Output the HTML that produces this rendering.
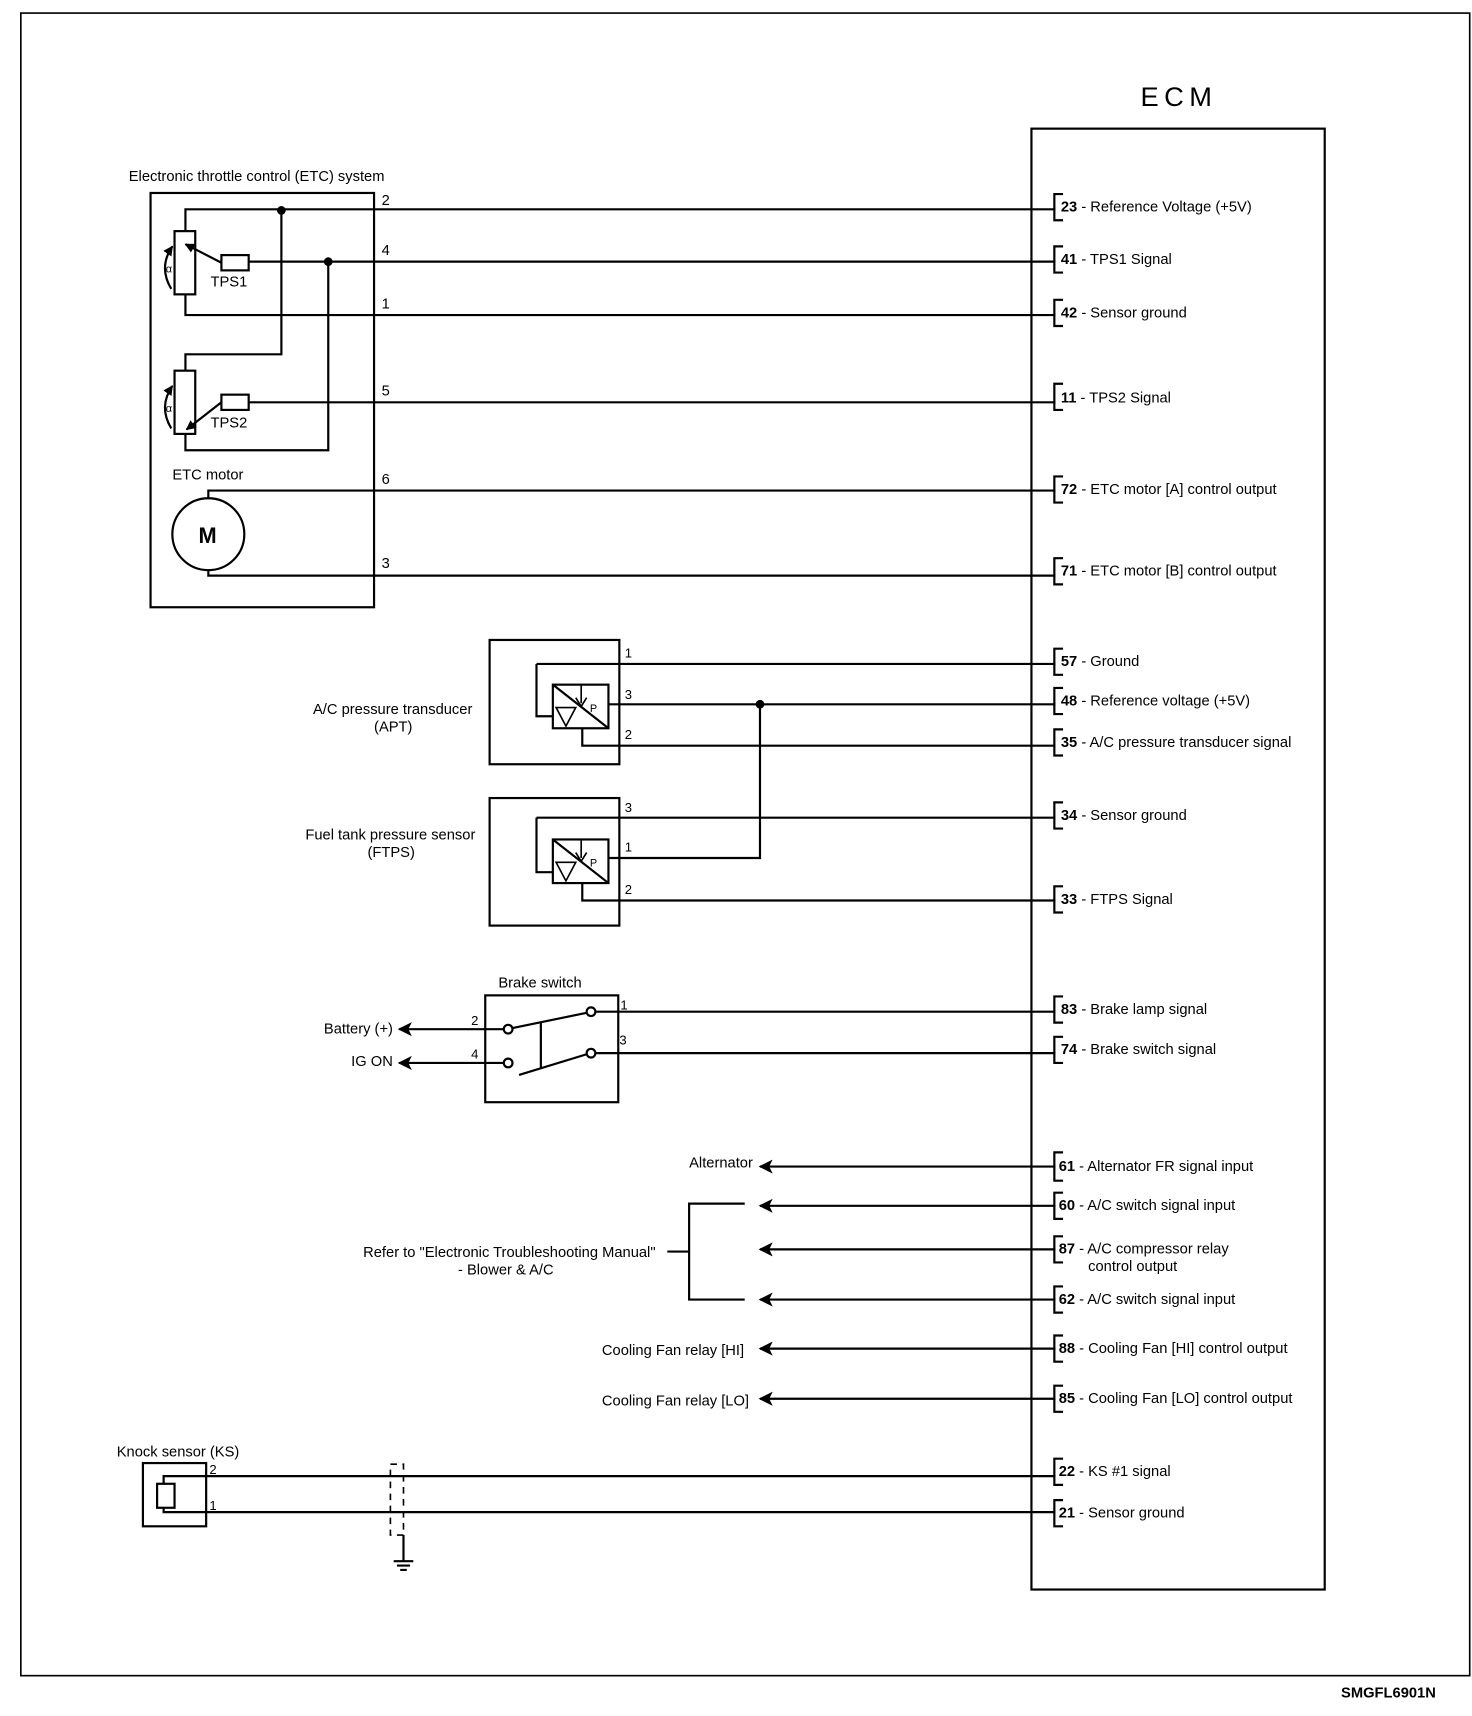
<!DOCTYPE html>
<html><head><meta charset="utf-8"><style>
html,body{margin:0;padding:0;background:#fff;}
svg{display:block;}
text{font-family:"Liberation Sans",sans-serif;font-size:13.5px;fill:#000;}
.b{font-weight:bold;}
</style></head><body>
<svg width="1472" height="1716" viewBox="0 0 1350 1574" xmlns="http://www.w3.org/2000/svg">
<defs>
<marker id="ah" viewBox="0 0 10 10" refX="9" refY="5" markerWidth="6.5" markerHeight="6.5" orient="auto">
<path d="M0,0 L10,5 L0,10 L2.5,5 z" fill="#000"/></marker>
<marker id="as" viewBox="0 0 10 10" refX="9" refY="5" markerWidth="4.5" markerHeight="4.5" orient="auto">
<path d="M0,0 L10,5 L0,10 z" fill="#000"/></marker>
</defs>
<g fill="none" stroke="#000" stroke-width="2">
<rect x="19" y="12" width="1329" height="1525" stroke-width="1.5"/>
<rect x="946" y="118" width="269" height="1340"/>
<rect x="138" y="177" width="205" height="380"/>
<path d="M170,212 V192 H968"/>
<path d="M228,240 H968"/>
<path d="M170,270 V289 H968"/>
<path d="M258,193 V325 H170 V340"/>
<path d="M301,240 V413 H170 V398"/>
<path d="M228,369 H968"/>
<rect x="160" y="212" width="19" height="58"/>
<rect x="160" y="340" width="19" height="58"/>
<rect x="203" y="234" width="25" height="14"/>
<rect x="203" y="362" width="25" height="14"/>
<path d="M203,241 L170,224" marker-end="url(#as)"/>
<path d="M203,369 L171,394" marker-end="url(#as)"/>
<path d="M157,265 Q145,245 158,226" marker-end="url(#as)"/>
<path d="M157,393 Q145,373 158,354" marker-end="url(#as)"/>
<circle cx="191" cy="490" r="33"/>
<path d="M191,457 V450 H968"/>
<path d="M191,523 V528 H968"/>
<rect x="449" y="587" width="119" height="114"/>
<rect x="507" y="628" width="51" height="40"/>
<path d="M492,609 H968 M492,609 V657 H507"/>
<path d="M558,646 H968"/>
<path d="M534,668 V684 H968"/>
<path d="M507,628 L558,668"/>
<path d="M533,628 V645" stroke-width="1.5"/><path d="M528,640 L533,648 L538,640" stroke-width="1.5"/>
<path d="M510,649 L528,649 L519,666 z" stroke-width="1.5"/>
<rect x="449" y="732" width="119" height="117"/>
<rect x="507" y="770" width="51" height="40"/>
<path d="M492,750 H968 M492,750 V800 H507"/>
<path d="M558,787 H697 V646"/>
<path d="M534,810 V826 H968"/>
<path d="M507,770 L558,810"/>
<path d="M533,770 V787" stroke-width="1.5"/><path d="M528,782 L533,790 L538,782" stroke-width="1.5"/>
<path d="M510,791 L528,791 L519,808 z" stroke-width="1.5"/>
<rect x="445" y="913" width="122" height="98"/>
<path d="M546,928 H968"/>
<path d="M546,966 H968"/>
<path d="M462,944 H366" marker-end="url(#ah)"/>
<path d="M462,975 H366" marker-end="url(#ah)"/>
<path d="M470,943 L538,929 M476,986 L538,967 M496,938 V980"/>
<circle cx="466" cy="944" r="4" fill="#fff"/>
<circle cx="466" cy="975" r="4" fill="#fff"/>
<circle cx="542" cy="928" r="4" fill="#fff"/>
<circle cx="542" cy="966" r="4" fill="#fff"/>
<path d="M968,1070 H697" marker-end="url(#ah)"/>
<path d="M968,1106 H697" marker-end="url(#ah)"/>
<path d="M968,1146 H697" marker-end="url(#ah)"/>
<path d="M968,1192 H697" marker-end="url(#ah)"/>
<path d="M968,1237 H697" marker-end="url(#ah)"/>
<path d="M968,1283 H697" marker-end="url(#ah)"/>
<path d="M683,1104 H632 V1192 H683 M612,1148 H632"/>
<rect x="131" y="1342" width="58" height="58"/>
<rect x="144" y="1361" width="16" height="22"/>
<path d="M150,1361 V1354 H968 M150,1383 V1387 H968"/>
<rect x="358" y="1343" width="12" height="65" stroke-width="1.5" stroke-dasharray="6,5"/>
<path d="M370,1408 V1432 M361,1432 H379 M364,1436 H376 M367,1440 H373"/>
<g stroke-width="2">
<path d="M975,178 H967 V202 H975"/>
<path d="M975,226 H967 V250 H975"/>
<path d="M975,275 H967 V299 H975"/>
<path d="M975,352 H967 V376 H975"/>
<path d="M975,437 H967 V461 H975"/>
<path d="M975,512 H967 V536 H975"/>
<path d="M975,595 H967 V619 H975"/>
<path d="M975,631 H967 V655 H975"/>
<path d="M975,669 H967 V693 H975"/>
<path d="M975,736 H967 V760 H975"/>
<path d="M975,813 H967 V837 H975"/>
<path d="M975,914 H967 V938 H975"/>
<path d="M975,951 H967 V975 H975"/>
<path d="M975,1057 H967 V1083 H975"/>
<path d="M975,1094 H967 V1118 H975"/>
<path d="M975,1134 H967 V1158 H975"/>
<path d="M975,1180 H967 V1204 H975"/>
<path d="M975,1225 H967 V1249 H975"/>
<path d="M975,1271 H967 V1295 H975"/>
<path d="M975,1338 H967 V1362 H975"/>
<path d="M975,1376 H967 V1400 H975"/>
</g>
</g>
<g fill="#000">
<circle cx="258" cy="193" r="4"/>
<circle cx="301" cy="240" r="4"/>
<circle cx="697" cy="646" r="4"/>
</g>
<text x="1046" y="97" style="font-size:25px;letter-spacing:5px">ECM</text>
<text x="118" y="166">Electronic throttle control (ETC) system</text>
<text x="350" y="188">2</text><text x="350" y="234">4</text><text x="350" y="283">1</text>
<text x="350" y="363">5</text><text x="350" y="444">6</text><text x="350" y="521">3</text>
<text x="193" y="263">TPS1</text><text x="193" y="392">TPS2</text>
<text x="152" y="250" style="font-size:10px">α</text><text x="152" y="378" style="font-size:10px">α</text>
<text x="158" y="440">ETC motor</text>
<text x="182" y="498" class="b" style="font-size:20px">M</text>
<text x="287" y="655">A/C pressure transducer</text>
<text x="343" y="671">(APT)</text>
<text x="280" y="770">Fuel tank pressure sensor</text>
<text x="337" y="786">(FTPS)</text>
<text x="573" y="603" style="font-size:12px">1</text><text x="573" y="641" style="font-size:12px">3</text><text x="573" y="678" style="font-size:12px">2</text>
<text x="573" y="745" style="font-size:12px">3</text><text x="573" y="781" style="font-size:12px">1</text><text x="573" y="820" style="font-size:12px">2</text>
<text x="541" y="653" style="font-size:10px">P</text><text x="541" y="795" style="font-size:10px">P</text>
<text x="457" y="906">Brake switch</text>
<text x="297" y="948">Battery (+)</text>
<text x="322" y="978">IG ON</text>
<text x="432" y="940" style="font-size:12px">2</text><text x="432" y="971" style="font-size:12px">4</text>
<text x="569" y="926" style="font-size:12px">1</text><text x="568" y="958" style="font-size:12px">3</text>
<text x="632" y="1071">Alternator</text>
<text x="333" y="1153">Refer to "Electronic Troubleshooting Manual"</text>
<text x="420" y="1169">- Blower &amp; A/C</text>
<text x="552" y="1243">Cooling Fan relay [HI]</text>
<text x="552" y="1289">Cooling Fan relay [LO]</text>
<text x="107" y="1336">Knock sensor (KS)</text>
<text x="192" y="1352" style="font-size:12px">2</text><text x="192" y="1385" style="font-size:12px">1</text>
<g>
<text x="973" y="194"><tspan class="b">23</tspan> - Reference Voltage (+5V)</text>
<text x="973" y="242"><tspan class="b">41</tspan> - TPS1 Signal</text>
<text x="973" y="291"><tspan class="b">42</tspan> - Sensor ground</text>
<text x="973" y="369"><tspan class="b">11</tspan> - TPS2 Signal</text>
<text x="973" y="453"><tspan class="b">72</tspan> - ETC motor [A] control output</text>
<text x="973" y="528"><tspan class="b">71</tspan> - ETC motor [B] control output</text>
<text x="973" y="611"><tspan class="b">57</tspan> - Ground</text>
<text x="973" y="647"><tspan class="b">48</tspan> - Reference voltage (+5V)</text>
<text x="973" y="685"><tspan class="b">35</tspan> - A/C pressure transducer signal</text>
<text x="973" y="752"><tspan class="b">34</tspan> - Sensor ground</text>
<text x="973" y="829"><tspan class="b">33</tspan> - FTPS Signal</text>
<text x="973" y="930"><tspan class="b">83</tspan> - Brake lamp signal</text>
<text x="973" y="967"><tspan class="b">74</tspan> - Brake switch signal</text>
<text x="971" y="1074"><tspan class="b">61</tspan> - Alternator FR signal input</text>
<text x="971" y="1110"><tspan class="b">60</tspan> - A/C switch signal input</text>
<text x="971" y="1150"><tspan class="b">87</tspan> - A/C compressor relay</text>
<text x="998" y="1166">control output</text>
<text x="971" y="1196"><tspan class="b">62</tspan> - A/C switch signal input</text>
<text x="971" y="1241"><tspan class="b">88</tspan> - Cooling Fan [HI] control output</text>
<text x="971" y="1287"><tspan class="b">85</tspan> - Cooling Fan [LO] control output</text>
<text x="971" y="1354"><tspan class="b">22</tspan> - KS #1 signal</text>
<text x="971" y="1392"><tspan class="b">21</tspan> - Sensor ground</text>
</g>
<text x="1230" y="1557" class="b">SMGFL6901N</text>
</svg>
</body></html>
